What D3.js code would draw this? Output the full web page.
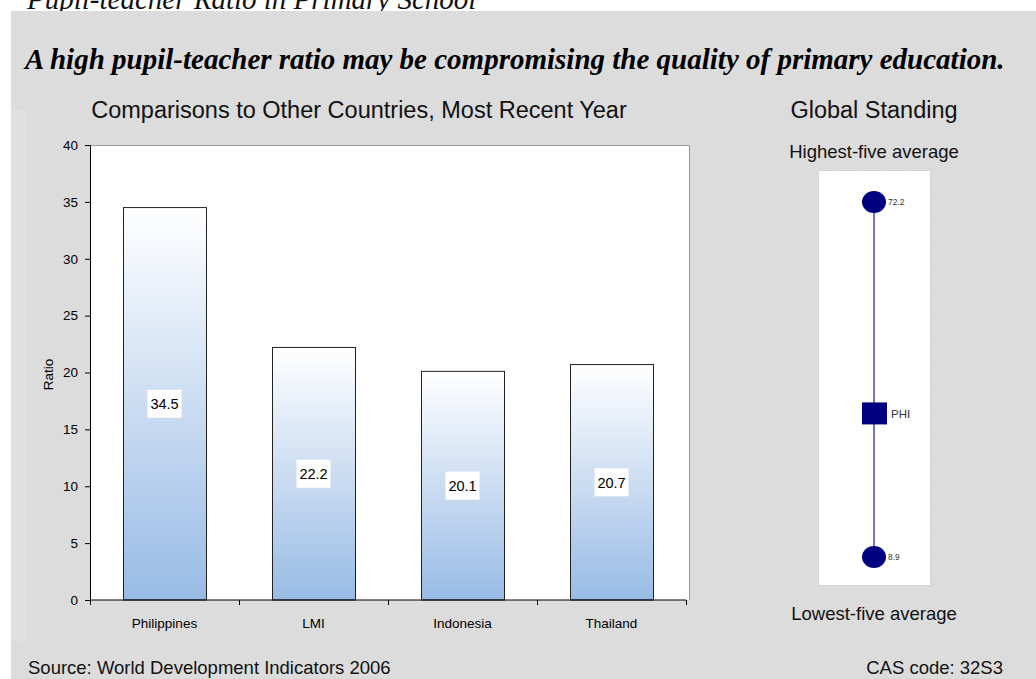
<!DOCTYPE html>
<html>
<head>
<meta charset="utf-8">
<script src="https://cdn.jsdelivr.net/npm/d3@7"></script>
<style>
  html, body { margin: 0; padding: 0; background: #fff; }
  svg { display: block; }
</style>
</head>
<body>
<svg id="chart" width="1036" height="679"></svg>
<script>
// Pupil-teacher ratio, most recent year
const categories = ["Philippines", "LMI", "Indonesia", "Thailand"];
const ratios = [34.5, 22.2, 20.1, 20.7];
const yTicks = [0, 5, 10, 15, 20, 25, 30, 35, 40];

// Global standing strip
const standingLabels = ["72.2", "PHI", "8.9"];
const standingValues = [72.2, 34.5, 8.9];
const standingShapes = ["circle", "square", "circle"];

const svg = d3.select("#chart");
const W = 1036, H = 679;
const serif = "Liberation Serif, Times New Roman, serif";
const sans = "Liberation Sans, Arial, Helvetica, sans-serif";

// Page title (partly clipped at the top)
svg.append("text")
  .attr("x", 27).attr("y", 9)
  .attr("font-family", serif)
  .attr("font-style", "italic")
  .attr("font-size", 29)
  .attr("fill", "#111")
  .text("Pupil-teacher Ratio in Primary School");

// Grey panel
svg.append("rect")
  .attr("x", 11).attr("y", 11).attr("width", W - 11).attr("height", H - 11)
  .attr("fill", "#dcdcdc");
svg.append("rect")
  .attr("x", 11).attr("y", 110).attr("width", 16).attr("height", 531)
  .attr("fill", "#e0e0e0");

// Headline
svg.append("text")
  .attr("x", 25).attr("y", 69)
  .attr("font-family", serif)
  .attr("font-style", "italic")
  .attr("font-weight", "bold")
  .attr("font-size", 29)
  .attr("fill", "#000")
  .text("A high pupil-teacher ratio may be compromising the quality of primary education.");

svg.append("text")
  .attr("x", 359).attr("y", 118)
  .attr("text-anchor", "middle")
  .attr("font-family", sans).attr("font-size", 23.5).attr("fill", "#111")
  .text("Comparisons to Other Countries, Most Recent Year");

// ---- Bar chart ----
const plot = { left: 90, right: 690, top: 145, bottom: 600 };

const x = d3.scaleBand()
  .domain(categories)
  .range([plot.left, plot.left + 596])
  .paddingInner(0.44)
  .paddingOuter(0.22);

const y = d3.scaleLinear()
  .domain([0, 40])
  .range([plot.bottom, plot.top]);

// plot area
svg.append("rect")
  .attr("x", plot.left).attr("y", plot.top)
  .attr("width", plot.right - plot.left).attr("height", plot.bottom - plot.top)
  .attr("fill", "#fff");
svg.append("path")
  .attr("d", `M${plot.left},${plot.top + 0.5}H${plot.right - 0.5}V${plot.bottom}`)
  .attr("fill", "none").attr("stroke", "#999").attr("stroke-width", 1);

const defs = svg.append("defs");
const grad = defs.append("linearGradient")
  .attr("id", "barFill")
  .attr("x1", 0).attr("y1", 0).attr("x2", 0).attr("y2", 1);
grad.append("stop").attr("offset", "0%").attr("stop-color", "#ffffff");
grad.append("stop").attr("offset", "100%").attr("stop-color", "#98bbe5");

svg.append("g")
  .selectAll("rect")
  .data(categories)
  .join("rect")
  .attr("x", d => Math.round(x(d)) + 0.5)
  .attr("y", (d, i) => y(ratios[i]))
  .attr("width", Math.round(x.bandwidth()))
  .attr("height", (d, i) => y(0) - y(ratios[i]))
  .attr("fill", "url(#barFill)")
  .attr("stroke", "#222")
  .attr("stroke-width", 1);

// value labels in white boxes at bar mid-height
const lbl = svg.append("g").selectAll("g")
  .data(categories)
  .join("g")
  .attr("transform", (d, i) => `translate(${x(d) + x.bandwidth() / 2},${y(ratios[i] / 2)})`);
lbl.append("rect")
  .attr("x", -17).attr("y", -14).attr("width", 34).attr("height", 28)
  .attr("fill", "#fff");
lbl.append("text")
  .attr("text-anchor", "middle").attr("dy", "0.36em")
  .attr("font-family", sans).attr("font-size", 14.5).attr("fill", "#000")
  .text((d, i) => ratios[i].toFixed(1));

// axes
const yAxis = svg.append("g")
  .attr("transform", `translate(${plot.left},0)`)
  .call(d3.axisLeft(y).tickValues(yTicks).tickSize(5).tickPadding(7));
yAxis.select(".domain").attr("stroke", "#000");
yAxis.selectAll("line").attr("stroke", "#000");
yAxis.selectAll("text").attr("font-family", sans).attr("font-size", 13.5).attr("fill", "#000");

const bandEdges = categories.map(c => x(c) - x.step() * x.paddingInner() / 2).concat([plot.left + 596]);
const xAxis = svg.append("g").attr("transform", `translate(0,${plot.bottom})`);
xAxis.append("line")
  .attr("x1", plot.left).attr("x2", plot.left + 596)
  .attr("stroke", "#000");
xAxis.selectAll("line.tick")
  .data(bandEdges)
  .join("line")
  .attr("class", "tick")
  .attr("x1", d => Math.round(d) + 0.5).attr("x2", d => Math.round(d) + 0.5)
  .attr("y1", 0).attr("y2", 5)
  .attr("stroke", "#000");
xAxis.selectAll("text")
  .data(categories)
  .join("text")
  .attr("x", d => x(d) + x.bandwidth() / 2)
  .attr("y", 28)
  .attr("text-anchor", "middle")
  .attr("font-family", sans).attr("font-size", 13.5).attr("fill", "#000")
  .text(d => d);

svg.append("text")
  .attr("transform", `translate(53,${(plot.top + plot.bottom) / 2 + 2}) rotate(-90)`)
  .attr("text-anchor", "middle")
  .attr("font-family", sans).attr("font-size", 13.5).attr("fill", "#000")
  .text("Ratio");

// ---- Global standing strip ----
svg.append("text")
  .attr("x", 874).attr("y", 118)
  .attr("text-anchor", "middle")
  .attr("font-family", sans).attr("font-size", 23.5).attr("fill", "#111")
  .text("Global Standing");
svg.append("text")
  .attr("x", 874).attr("y", 158)
  .attr("text-anchor", "middle")
  .attr("font-family", sans).attr("font-size", 18.5).attr("fill", "#111")
  .text("Highest-five average");
svg.append("text")
  .attr("x", 874).attr("y", 620)
  .attr("text-anchor", "middle")
  .attr("font-family", sans).attr("font-size", 18.5).attr("fill", "#111")
  .text("Lowest-five average");

svg.append("rect")
  .attr("x", 818.5).attr("y", 170.5).attr("width", 112).attr("height", 415)
  .attr("fill", "#fff").attr("stroke", "#c8c8c8").attr("stroke-dasharray", "2,1");

const s = d3.scaleLinear()
  .domain([d3.min(standingValues), d3.max(standingValues)])
  .range([557, 202]);
const cx = 874;

svg.append("line")
  .attr("x1", cx).attr("x2", cx)
  .attr("y1", s(d3.max(standingValues))).attr("y2", s(d3.min(standingValues)))
  .attr("stroke", "#3a3aa8").attr("stroke-width", 1.4);

const marks = svg.append("g").selectAll("g")
  .data(standingValues)
  .join("g")
  .attr("transform", d => `translate(${cx},${s(d)})`);
marks.filter((d, i) => standingShapes[i] === "circle")
  .append("ellipse").attr("rx", 12).attr("ry", 11).attr("fill", "#000080");
marks.filter((d, i) => standingShapes[i] === "square")
  .append("rect").attr("x", -12).attr("y", -11).attr("width", 25).attr("height", 22).attr("fill", "#000080");
marks.append("text")
  .attr("x", (d, i) => standingShapes[i] === "square" ? 17 : 14)
  .attr("dy", "0.36em")
  .attr("font-family", sans)
  .attr("font-size", (d, i) => standingShapes[i] === "square" ? 11.5 : 8.5)
  .attr("fill", "#333")
  .text((d, i) => standingLabels[i]);

// Footer
svg.append("text")
  .attr("x", 28).attr("y", 674)
  .attr("font-family", sans).attr("font-size", 18.5).attr("fill", "#111")
  .text("Source: World Development Indicators 2006");
svg.append("text")
  .attr("x", 1003).attr("y", 674)
  .attr("text-anchor", "end")
  .attr("font-family", sans).attr("font-size", 18.5).attr("fill", "#111")
  .text("CAS code: 32S3");
</script>
</body>
</html>
